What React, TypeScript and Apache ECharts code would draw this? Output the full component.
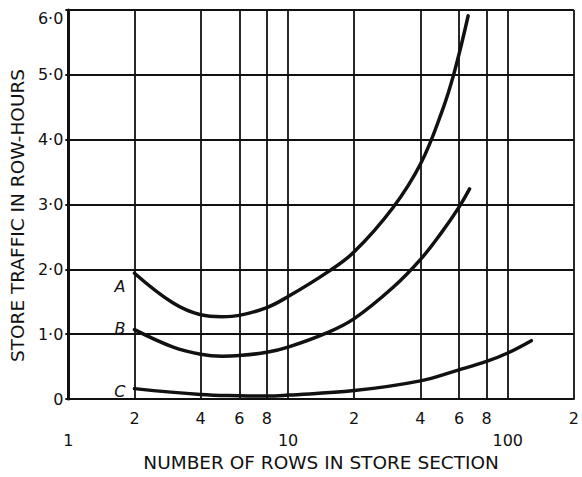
import React, { useEffect, useRef } from "react";
import * as echarts from "echarts";

// Curve A
const rowsA = [2, 3, 4, 5, 6, 8, 10, 15, 20, 30, 40, 50, 57, 66];
const trafficA = [1.94, 1.48, 1.3, 1.27, 1.29, 1.41, 1.58, 1.95, 2.27, 2.95, 3.62, 4.42, 5.03, 5.91];
// Curve B
const rowsB = [2, 3, 4, 5, 6, 8, 10, 15, 20, 30, 40, 50, 60, 67];
const trafficB = [1.07, 0.8, 0.69, 0.66, 0.67, 0.72, 0.8, 1.02, 1.24, 1.72, 2.15, 2.57, 2.96, 3.24];
// Curve C
const rowsC = [2, 4, 6, 8, 10, 20, 40, 60, 80, 100, 128];
const trafficC = [0.16, 0.07, 0.05, 0.045, 0.06, 0.13, 0.28, 0.45, 0.58, 0.71, 0.9];

const seriesNames = ["A", "B", "C"];

const xMin = 1;
const xMax = 200;
const xGridValues = [2, 4, 6, 8, 10, 20, 40, 60, 80, 100, 200];
const xMinorLabelValues = [2, 4, 6, 8, 20, 40, 60, 80, 200];
const xMinorLabels = ["2", "4", "6", "8", "2", "4", "6", "8", "2"];
const xDecadeValues = [1, 10, 100];
const xDecadeLabels = ["1", "10", "100"];
const yTickLabels = ["0", "1·0", "2·0", "3·0", "4·0", "5·0", "6·0"];

const FONT = "DejaVu Sans";
const INK = "#111";

function lookupLabel(v: number, values: number[], labels: string[]) {
  let best = 0;
  let bestD = Infinity;
  values.forEach((x, i) => {
    const d = Math.abs(Math.log10(x) - v);
    if (d < bestD) {
      bestD = d;
      best = i;
    }
  });
  return labels[best];
}

export default function App() {
  const ref = useRef<HTMLDivElement>(null);

  useEffect(() => {
    if (!ref.current) return;
    const chart = echarts.init(ref.current, null, { renderer: "svg" });

    const mk = (
      name: string,
      xs: number[],
      ys: number[],
      labelOffset: number[]
    ) => ({
      name,
      type: "line",
      xAxisIndex: 0,
      yAxisIndex: 0,
      smooth: 0.4,
      showSymbol: true,
      symbol: "circle",
      symbolSize: 0.1,
      itemStyle: { color: INK },
      lineStyle: { color: INK, width: 3.5, cap: "round" },
      label: { show: false },
      emphasis: { disabled: true },
      data: xs.map((x, i) =>
        i === 0
          ? {
              value: [Math.log10(x), ys[i]],
              label: {
                show: true,
                formatter: name,
                position: "left",
                distance: 4,
                offset: labelOffset,
                fontFamily: FONT,
                fontStyle: "italic",
                fontSize: 16,
                color: INK,
              },
            }
          : { value: [Math.log10(x), ys[i]] }
      ),
    });

    const option: any = {
      animation: false,
      backgroundColor: "#fff",
      grid: { left: 61, right: 2, top: 10, bottom: 70, containLabel: false },
      xAxis: [
        {
          type: "value",
          min: Math.log10(xMin),
          max: Math.log10(xMax),
          position: "bottom",
          axisLine: { show: true, lineStyle: { color: INK, width: 2 } },
          axisTick: {
            show: false,
            customValues: xGridValues.map((v) => Math.log10(v)),
          },
          splitLine: { show: true, lineStyle: { color: INK, width: 1.8 } },
          axisLabel: {
            customValues: xMinorLabelValues.map((v) => Math.log10(v)),
            formatter: (v: number) => lookupLabel(v, xMinorLabelValues, xMinorLabels),
            margin: 11,
            fontFamily: FONT,
            fontSize: 16,
            color: INK,
          },
        },
        {
          type: "value",
          min: Math.log10(xMin),
          max: Math.log10(xMax),
          position: "bottom",
          axisLine: { show: false },
          axisTick: { show: false },
          splitLine: { show: false },
          axisLabel: {
            customValues: xDecadeValues.map((v) => Math.log10(v)),
            formatter: (v: number) => lookupLabel(v, xDecadeValues, xDecadeLabels),
            margin: 33,
            showMinLabel: true,
            fontFamily: FONT,
            fontSize: 16,
            color: INK,
          },
          name: "NUMBER OF ROWS IN STORE SECTION",
          nameLocation: "middle",
          nameGap: 54,
          nameTextStyle: { fontFamily: FONT, fontSize: 18.5, color: INK },
        },
      ],
      yAxis: {
        type: "value",
        min: 0,
        max: 6,
        interval: 1,
        axisLine: { show: true, lineStyle: { color: INK, width: 3 } },
        axisTick: { show: true, length: 3, lineStyle: { color: INK, width: 2 } },
        splitLine: { show: true, lineStyle: { color: INK, width: 1.8 } },
        axisLabel: {
          margin: 5,
          fontFamily: FONT,
          fontSize: 16,
          color: INK,
          formatter: (v: number) =>
            v === 6 ? "{t|" + yTickLabels[6] + "}" : yTickLabels[Math.round(v)],
          rich: { t: { padding: [16, 0, 0, 0], fontFamily: FONT, fontSize: 16, color: INK } },
        },
        name: "STORE TRAFFIC IN ROW-HOURS",
        nameLocation: "middle",
        nameGap: 40,
        nameTextStyle: {
          fontFamily: FONT,
          fontSize: 18.5,
          color: INK,
          padding: [0, 22, 0, 0],
        },
      },
      series: [
        mk(seriesNames[0], rowsA, trafficA, [-5, 13]),
        mk(seriesNames[1], rowsB, trafficB, [-5, -1]),
        mk(seriesNames[2], rowsC, trafficC, [-5, 3]),
      ],
    };

    chart.setOption(option);
    return () => chart.dispose();
  }, []);

  return (
    <div
      ref={ref}
      style={{ position: "absolute", left: 0, top: 0, width: 582, height: 477 }}
    />
  );
}
